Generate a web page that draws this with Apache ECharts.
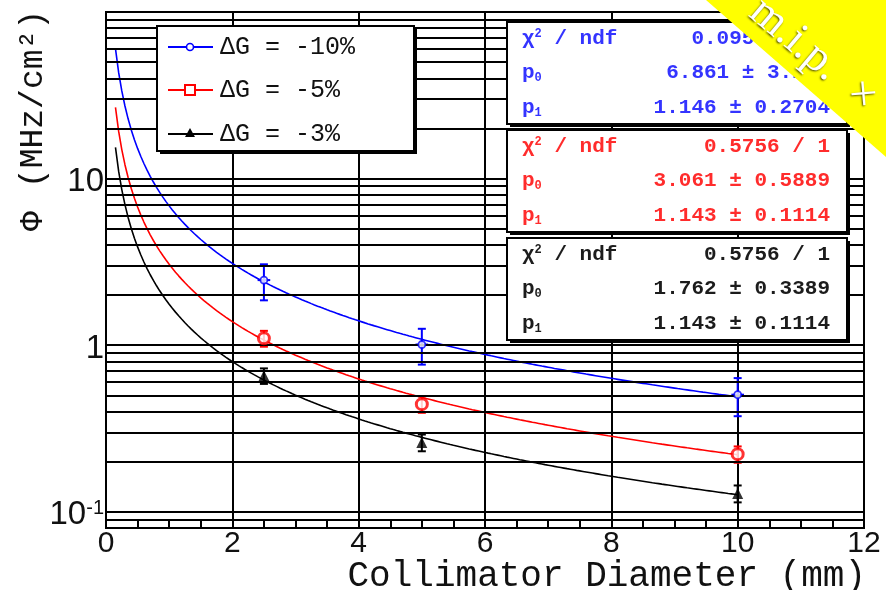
<!DOCTYPE html>
<html>
<head>
<meta charset="utf-8">
<script src="https://cdn.jsdelivr.net/npm/echarts@6/dist/echarts.min.js"></script>
<style>
  html, body { margin: 0; padding: 0; background: #ffffff; }
  #chart { width: 886px; height: 590px; }
</style>
</head>
<body>
<div id="chart"></div>
<script>
// Measured flux vs collimator diameter for three gain settings, with power-law fits p0 / d^p1
const seriesNames = ['ΔG = -10%', 'ΔG = -5%', 'ΔG = -3%'];
const seriesColors = ['#0000ff', '#ff0000', '#000000'];
const statTextColors = ['#3434ff', '#ff2c2c', '#1c1c1c'];

const diameters = [2.5, 5, 10];
const fluxM10 = [2.46, 1.01, 0.505];
const fluxErrM10 = [0.6, 0.245, 0.13];
const diamErrM10 = [0.1, 0.1, 0.1];
const fluxM5 = [1.10, 0.443, 0.222];
const fluxErrM5 = [0.12, 0.05, 0.025];
const diamErrM5 = [0, 0, 0];
const fluxM3 = [0.656, 0.261, 0.129];
const fluxErrM3 = [0.07, 0.03, 0.015];
const diamErrM3 = [0, 0, 0];

// fit parameters as printed in the stat boxes
const fitP0 = [6.861, 3.061, 1.762];
const fitP1 = [1.146, 1.143, 1.143];
const fitRange = [0.15, 10];
const chi2Text = ['0.09588 / 1', '0.5756 / 1', '0.5756 / 1'];
const p0Text = ['6.861 ± 3.223', '3.061 ± 0.5889', '1.762 ± 0.3389'];
const p1Text = ['1.146 ± 0.2704', '1.143 ± 0.1114', '1.143 ± 0.1114'];

// axis settings
const xRange = [0, 12];
const xStep = 2;
const yRange = [0.08, 100];
const yDecadeLabels = { '0.1': '{b|10}{s|-1}', '1': '1', '10': '10' };
const yGridValues = [0.09, 0.1, 0.2, 0.3, 0.4, 0.5, 0.6, 0.7, 0.8, 0.9,
                     1, 2, 3, 4, 5, 6, 7, 8, 9,
                     10, 20, 30, 40, 50, 60, 70, 80, 90];

const fluxes = [fluxM10, fluxM5, fluxM3];
const fluxErrs = [fluxErrM10, fluxErrM5, fluxErrM3];
const diamErrs = [diamErrM10, diamErrM5, diamErrM3];

function fitCurve(p0, p1) {
  const pts = [];
  const n = 197;
  for (let k = 0; k <= n; k++) {
    const x = fitRange[0] + (fitRange[1] - fitRange[0]) * k / n;
    pts.push([x, p0 / Math.pow(x, p1)]);
  }
  return pts;
}

const MONO = '"Liberation Mono", "DejaVu Sans Mono", monospace';
const SANS = '"Liberation Sans", Arial, sans-serif';

function errorBarItem(params, api) {
  const x = api.value(0), y = api.value(1), ey = api.value(2), ex = api.value(3);
  const color = seriesColors[params.seriesIndex - 4];
  const top = api.coord([x, y + ey]);
  const bot = api.coord([x, y - ey]);
  const children = [
    { type: 'line', shape: { x1: top[0], y1: top[1], x2: bot[0], y2: bot[1] },
      style: { stroke: color, lineWidth: 2 } },
    { type: 'line', shape: { x1: top[0] - 4, y1: top[1], x2: top[0] + 4, y2: top[1] },
      style: { stroke: color, lineWidth: 2 } },
    { type: 'line', shape: { x1: bot[0] - 4, y1: bot[1], x2: bot[0] + 4, y2: bot[1] },
      style: { stroke: color, lineWidth: 2 } }
  ];
  if (ex > 0) {
    const l = api.coord([x - ex, y]);
    const r = api.coord([x + ex, y]);
    children.push({ type: 'line', shape: { x1: l[0], y1: l[1], x2: r[0], y2: r[1] },
      style: { stroke: color, lineWidth: 2 } });
  }
  return { type: 'group', children: children };
}

const series = [];
// horizontal log grid lines
series.push({
  type: 'line', data: [[0, 1]], showSymbol: false, silent: true, z: 1,
  lineStyle: { width: 0 },
  markLine: {
    silent: true, symbol: ['none', 'none'], label: { show: false },
    emphasis: { disabled: true },
    lineStyle: { color: '#000', width: 2, type: 'solid' },
    data: yGridValues.map(v => ({ yAxis: v }))
  }
});
// fit curves
for (let i = 0; i < 3; i++) {
  series.push({
    type: 'line', name: seriesNames[i] + ' fit', data: fitCurve(fitP0[i], fitP1[i]),
    showSymbol: false, smooth: false, z: 3,
    lineStyle: { color: seriesColors[i], width: 1.6 }
  });
}
// error bars
for (let i = 0; i < 3; i++) {
  series.push({
    type: 'custom', name: seriesNames[i] + ' errors', z: 4,
    renderItem: errorBarItem,
    encode: { x: 0, y: 1 },
    data: diameters.map((d, k) => [d, fluxes[i][k], fluxErrs[i][k], diamErrs[i][k]])
  });
}
// data markers
const markerStyles = [
  { symbol: 'circle', symbolSize: 7, itemStyle: { color: '#fff', borderColor: '#0000ff', borderWidth: 1.8 } },
  { symbol: 'circle', symbolSize: 11, itemStyle: { color: '#fff', borderColor: '#ff0000', borderWidth: 3 } },
  { symbol: 'triangle', symbolSize: 11, itemStyle: { color: '#000' } }
];
for (let i = 0; i < 3; i++) {
  series.push(Object.assign({
    type: 'scatter', name: seriesNames[i], z: 5,
    data: diameters.map((d, k) => [d, fluxes[i][k]])
  }, markerStyles[i]));
}

// legend box and stat boxes
const graphics = [];
const legendBox = { x: 157, y: 26, w: 257, h: 125 };
graphics.push({ type: 'rect', shape: { x: legendBox.x + 3, y: legendBox.y + 3, width: legendBox.w, height: legendBox.h },
  style: { fill: '#000' }, z: 20 });
graphics.push({ type: 'rect', shape: { x: legendBox.x, y: legendBox.y, width: legendBox.w, height: legendBox.h },
  style: { fill: '#fff', stroke: '#000', lineWidth: 2 }, z: 21 });
const legendRows = [47, 90, 134];
for (let i = 0; i < 3; i++) {
  const ry = legendRows[i];
  graphics.push({ type: 'line', shape: { x1: 168, y1: ry, x2: 213, y2: ry },
    style: { stroke: seriesColors[i], lineWidth: 2 }, z: 22 });
  if (i === 0) {
    graphics.push({ type: 'circle', shape: { cx: 190, cy: ry, r: 3.5 },
      style: { fill: '#fff', stroke: seriesColors[i], lineWidth: 1.6 }, z: 23 });
  } else if (i === 1) {
    graphics.push({ type: 'rect', shape: { x: 185, y: ry - 5, width: 10, height: 10 },
      style: { fill: '#fff', stroke: seriesColors[i], lineWidth: 2 }, z: 23 });
  } else {
    graphics.push({ type: 'polygon', shape: { points: [[190, ry - 6], [195, ry + 3], [185, ry + 3]] },
      style: { fill: '#000' }, z: 23 });
  }
  graphics.push({ type: 'text', x: 220, y: ry,
    style: { text: seriesNames[i], font: '25px ' + MONO, fill: '#111', verticalAlign: 'middle', align: 'left' }, z: 23 });
}

const statTops = [22, 130, 238];
const statRows = [17, 51, 86];
for (let i = 0; i < 3; i++) {
  const top = statTops[i];
  graphics.push({ type: 'rect', shape: { x: 510, y: top + 3, width: 340, height: 102 },
    style: { fill: '#000' }, z: 20 });
  graphics.push({ type: 'rect', shape: { x: 507, y: top, width: 340, height: 102 },
    style: { fill: '#fff', stroke: '#000', lineWidth: 2 }, z: 21 });
  const c = statTextColors[i];
  const rich = {
    t: { font: 'bold 21px ' + MONO, fill: c },
    sup: { font: 'bold 12px ' + MONO, fill: c, verticalAlign: 'top', padding: [0, 0, 10, 0] },
    sub: { font: 'bold 12px ' + MONO, fill: c, verticalAlign: 'bottom', padding: [8, 0, 0, 0] }
  };
  const leftTexts = ['{t|χ}{sup|2}{t| / ndf}', '{t|p}{sub|0}', '{t|p}{sub|1}'];
  const rightTexts = [chi2Text[i], p0Text[i], p1Text[i]];
  for (let r = 0; r < 3; r++) {
    graphics.push({ type: 'text', x: 522, y: top + statRows[r],
      style: { text: leftTexts[r], rich: rich, font: 'bold 21px ' + MONO, fill: c,
        verticalAlign: 'middle', align: 'left' }, z: 22 });
    graphics.push({ type: 'text', x: 830, y: top + statRows[r],
      style: { text: rightTexts[r], font: 'bold 21px ' + MONO, fill: c,
        verticalAlign: 'middle', align: 'right' }, z: 22 });
  }
}

// axis titles
graphics.push({ type: 'text', x: 866, y: 576,
  style: { text: 'Collimator Diameter (mm)', font: '36px ' + MONO, fill: '#111', align: 'right', verticalAlign: 'middle' }, z: 10 });
graphics.push({ type: 'text', x: 33, y: 221, rotation: Math.PI / 2,
  style: { text: 'Φ', font: '33px ' + MONO, fill: '#111', align: 'center', verticalAlign: 'middle' }, z: 10 });
graphics.push({ type: 'text', x: 33, y: 99, rotation: Math.PI / 2,
  style: { text: '(MHz/cm²)', font: '33px ' + MONO, fill: '#111', align: 'center', verticalAlign: 'middle' }, z: 10 });

// corner ribbon
graphics.push({ type: 'polygon', shape: { points: [[706, 0], [886, 0], [886, 157]] },
  style: { fill: '#ffff00' }, z: 40 });
graphics.push({ type: 'text', x: 813, y: 55, rotation: -0.70,
  style: { text: 'm.i.p.  ×', font: '45px "Liberation Serif", "DejaVu Serif", serif', fill: '#ffffff',
    align: 'center', verticalAlign: 'middle', textShadowColor: 'rgba(60,60,0,0.9)', textShadowBlur: 2,
    textShadowOffsetX: -1, textShadowOffsetY: 1 }, z: 41 });

const chart = echarts.init(document.getElementById('chart'), null, { renderer: 'canvas' });
chart.setOption({
  animation: false,
  backgroundColor: '#ffffff',
  grid: { left: 106, right: 22, top: 12, bottom: 62, show: true, borderColor: '#000', borderWidth: 2,
    backgroundColor: 'transparent' },
  xAxis: {
    type: 'value', min: xRange[0], max: xRange[1], interval: xStep,
    axisLine: { show: true, lineStyle: { color: '#000', width: 2 } },
    axisTick: { show: true, inside: true, length: 8, lineStyle: { color: '#000', width: 2 } },
    minorTick: { show: true, splitNumber: 4, length: 8, lineStyle: { color: '#000', width: 2 } },
    splitLine: { show: true, lineStyle: { color: '#000', width: 2 } },
    axisLabel: { fontFamily: SANS, fontSize: 30, color: '#111', margin: 1 }
  },
  yAxis: {
    type: 'log', logBase: 10, min: yRange[0], max: yRange[1],
    axisLine: { show: true, lineStyle: { color: '#000', width: 2 } },
    axisTick: { show: false },
    splitLine: { show: false },
    axisLabel: {
      fontFamily: SANS, fontSize: 33, color: '#111', margin: 2, padding: [7, 0, 0, 0],
      formatter: function (v) {
        const key = String(Number(v.toPrecision(6)));
        return yDecadeLabels[key] || '';
      },
      rich: {
        b: { fontFamily: SANS, fontSize: 33, color: '#111', lineHeight: 33 },
        s: { fontFamily: SANS, fontSize: 20, color: '#111', verticalAlign: 'top', lineHeight: 20 }
      }
    }
  },
  series: series,
  graphic: graphics
});
</script>
</body>
</html>
